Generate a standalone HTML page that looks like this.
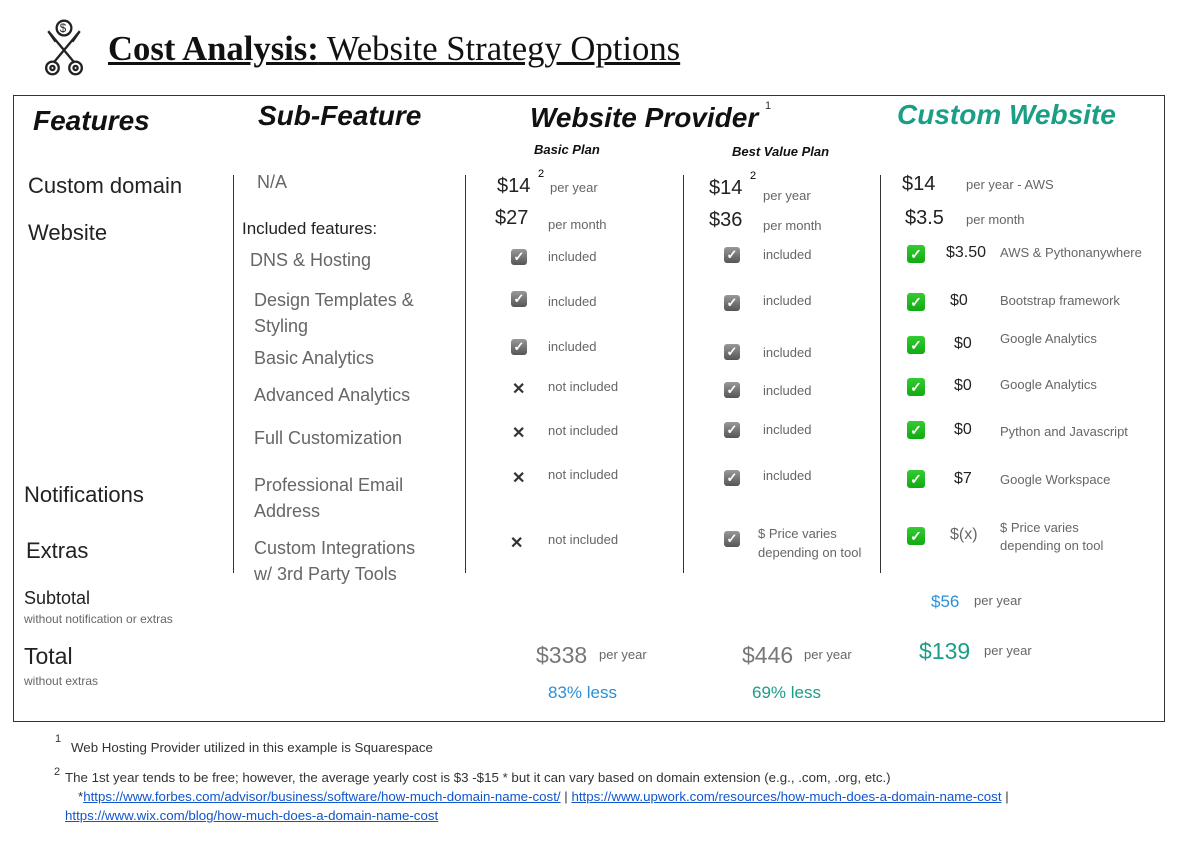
<!DOCTYPE html>
<html><head><meta charset="utf-8"><style>
body{margin:0;width:1180px;height:847px;background:#fff;position:relative;font-family:"Liberation Sans",sans-serif;overflow:hidden}
.a{position:absolute;white-space:nowrap;line-height:1}
.h{font-weight:bold;font-style:italic;color:#111}
.g{color:#666}
.s{font-size:13px;color:#666}
.k{font-size:20px;color:#222}
.vl{position:absolute;width:1px;background:#333}
.cb{position:absolute;width:16px;height:16px;border-radius:3px;background:linear-gradient(#999,#555);color:#fff;font-size:13px;line-height:16px;text-align:center;font-weight:bold}
.gb{position:absolute;width:18px;height:18px;border-radius:3px;background:linear-gradient(#3c3,#1a1);color:#fff;font-size:14px;line-height:18px;text-align:center;font-weight:bold}
.x{position:absolute;font-size:16px;font-weight:bold;color:#333;line-height:1}
a{color:#15c;text-decoration:underline}
</style></head><body>
<svg style="position:absolute;left:43px;top:18px" width="42" height="60" viewBox="0 0 40 56" fill="none" stroke="#222" stroke-width="2.2">
<circle cx="20" cy="9" r="7"/><text x="16" y="13" font-size="11" fill="#222" stroke="none" font-family="Liberation Sans">$</text>
<path d="M5 12 L30 42 M35 12 L10 42 M5 12 L12 22 M35 12 L28 22"/>
<circle cx="9" cy="47" r="6"/><circle cx="31" cy="47" r="6"/><circle cx="9" cy="47" r="2"/><circle cx="31" cy="47" r="2"/>
</svg>
<div class="a" style="left:108px;top:31px;font-family:'Liberation Serif',serif;font-size:35px;color:#111;text-decoration:underline;transform:scaleX(0.99);transform-origin:left"><b>Cost Analysis:</b> Website Strategy Options</div>
<div style="position:absolute;left:13px;top:95px;width:1150px;height:625px;border:1px solid #333"></div>
<div class="vl" style="left:233px;top:175px;height:398px"></div>
<div class="vl" style="left:465px;top:175px;height:398px"></div>
<div class="vl" style="left:683px;top:175px;height:398px"></div>
<div class="vl" style="left:880px;top:175px;height:398px"></div>

<div class="a h" style="left:33px;top:107px;font-size:28px">Features</div>
<div class="a h" style="left:258px;top:102px;font-size:28px">Sub-Feature</div>
<div class="a h" style="left:530px;top:104px;font-size:28px">Website Provider</div>
<div class="a" style="left:765px;top:101px;font-size:11px;color:#333">1</div>
<div class="a h" style="left:897px;top:101px;font-size:28px;color:#1a9e86">Custom Website</div>
<div class="a h" style="left:534px;top:143px;font-size:13px">Basic Plan</div>
<div class="a h" style="left:732px;top:145px;font-size:13px">Best Value Plan</div>

<div class="a" style="left:28px;top:175px;font-size:22px;color:#222">Custom domain</div>
<div class="a" style="left:28px;top:222px;font-size:22px;color:#222">Website</div>
<div class="a" style="left:24px;top:484px;font-size:22px;color:#222">Notifications</div>
<div class="a" style="left:26px;top:540px;font-size:22px;color:#222">Extras</div>

<div class="a g" style="left:257px;top:173px;font-size:18px">N/A</div>
<div class="a" style="left:242px;top:220px;font-size:17px;color:#222">Included features:</div>
<div class="a g" style="left:250px;top:251px;font-size:18px">DNS &amp; Hosting</div>
<div class="a g" style="left:254px;top:287px;font-size:18px;line-height:26px;white-space:normal;width:190px">Design Templates &amp; Styling</div>
<div class="a g" style="left:254px;top:349px;font-size:18px">Basic Analytics</div>
<div class="a g" style="left:254px;top:386px;font-size:18px">Advanced Analytics</div>
<div class="a g" style="left:254px;top:429px;font-size:18px">Full Customization</div>
<div class="a g" style="left:254px;top:472px;font-size:18px;line-height:26px;white-space:normal;width:190px">Professional Email Address</div>
<div class="a g" style="left:254px;top:535px;font-size:18px;line-height:26px;white-space:normal;width:180px">Custom Integrations w/ 3rd Party Tools</div>

<!-- basic -->
<div class="a k" style="left:497px;top:176px">$14</div><div class="a" style="left:538px;top:169px;font-size:11px">2</div>
<div class="a s" style="left:550px;top:181px">per year</div>
<div class="a k" style="left:495px;top:208px">$27</div><div class="a s" style="left:548px;top:218px">per month</div>
<div class="cb" style="left:511px;top:249px">✓</div><div class="a s" style="left:548px;top:250px">included</div>
<div class="cb" style="left:511px;top:291px">✓</div><div class="a s" style="left:548px;top:295px">included</div>
<div class="cb" style="left:511px;top:339px">✓</div><div class="a s" style="left:548px;top:340px">included</div>
<div class="x" style="left:512px;top:382px">✕</div><div class="a s" style="left:548px;top:380px">not included</div>
<div class="x" style="left:512px;top:426px">✕</div><div class="a s" style="left:548px;top:424px">not included</div>
<div class="x" style="left:512px;top:471px">✕</div><div class="a s" style="left:548px;top:468px">not included</div>
<div class="x" style="left:510px;top:536px">✕</div><div class="a s" style="left:548px;top:533px">not included</div>

<!-- best value -->
<div class="a k" style="left:709px;top:178px">$14</div><div class="a" style="left:750px;top:171px;font-size:11px">2</div>
<div class="a s" style="left:763px;top:189px">per year</div>
<div class="a k" style="left:709px;top:210px">$36</div><div class="a s" style="left:763px;top:219px">per month</div>
<div class="cb" style="left:724px;top:247px">✓</div><div class="a s" style="left:763px;top:248px">included</div>
<div class="cb" style="left:724px;top:295px">✓</div><div class="a s" style="left:763px;top:294px">included</div>
<div class="cb" style="left:724px;top:344px">✓</div><div class="a s" style="left:763px;top:346px">included</div>
<div class="cb" style="left:724px;top:382px">✓</div><div class="a s" style="left:763px;top:384px">included</div>
<div class="cb" style="left:724px;top:422px">✓</div><div class="a s" style="left:763px;top:423px">included</div>
<div class="cb" style="left:724px;top:470px">✓</div><div class="a s" style="left:763px;top:469px">included</div>
<div class="cb" style="left:724px;top:531px">✓</div><div class="a s" style="left:758px;top:524px;line-height:19px">$ Price varies<br>depending on tool</div>

<!-- custom -->
<div class="a k" style="left:902px;top:174px">$14</div><div class="a s" style="left:966px;top:178px">per year - AWS</div>
<div class="a k" style="left:905px;top:208px">$3.5</div><div class="a s" style="left:966px;top:213px">per month</div>
<div class="gb" style="left:907px;top:245px">✓</div><div class="a" style="left:946px;top:245px;font-size:16px;color:#222">$3.50</div><div class="a s" style="left:1000px;top:246px">AWS &amp; Pythonanywhere</div>
<div class="gb" style="left:907px;top:293px">✓</div><div class="a" style="left:950px;top:293px;font-size:16px;color:#222">$0</div><div class="a s" style="left:1000px;top:294px">Bootstrap framework</div>
<div class="gb" style="left:907px;top:336px">✓</div><div class="a" style="left:954px;top:336px;font-size:16px;color:#222">$0</div><div class="a s" style="left:1000px;top:332px">Google Analytics</div>
<div class="gb" style="left:907px;top:378px">✓</div><div class="a" style="left:954px;top:378px;font-size:16px;color:#222">$0</div><div class="a s" style="left:1000px;top:378px">Google Analytics</div>
<div class="gb" style="left:907px;top:421px">✓</div><div class="a" style="left:954px;top:422px;font-size:16px;color:#222">$0</div><div class="a s" style="left:1000px;top:425px">Python and Javascript</div>
<div class="gb" style="left:907px;top:470px">✓</div><div class="a" style="left:954px;top:471px;font-size:16px;color:#222">$7</div><div class="a s" style="left:1000px;top:473px">Google Workspace</div>
<div class="gb" style="left:907px;top:527px">✓</div><div class="a g" style="left:950px;top:527px;font-size:16px">$(x)</div><div class="a s" style="left:1000px;top:519px;line-height:18px">$ Price varies<br>depending on tool</div>

<div class="a" style="left:24px;top:589px;font-size:18px;color:#222">Subtotal</div>
<div class="a s" style="left:24px;top:613px;font-size:12px">without notification or extras</div>
<div class="a" style="left:931px;top:593px;font-size:17px;color:#2a8fd8">$56</div><div class="a s" style="left:974px;top:594px">per year</div>
<div class="a" style="left:24px;top:645px;font-size:23px;color:#222">Total</div>
<div class="a s" style="left:24px;top:675px;font-size:12px">without extras</div>
<div class="a" style="left:536px;top:644px;font-size:23px;color:#777">$338</div><div class="a s" style="left:599px;top:648px">per year</div>
<div class="a" style="left:742px;top:644px;font-size:23px;color:#777">$446</div><div class="a s" style="left:804px;top:648px">per year</div>
<div class="a" style="left:919px;top:640px;font-size:23px;color:#1a9e86">$139</div><div class="a s" style="left:984px;top:644px">per year</div>
<div class="a" style="left:548px;top:684px;font-size:17px;color:#2a8fd8">83% less</div>
<div class="a" style="left:752px;top:684px;font-size:17px;color:#1a9e86">69% less</div>

<div class="a" style="left:55px;top:734px;font-size:11px;color:#333">1</div>
<div class="a" style="left:71px;top:741px;font-size:13.3px;color:#333">Web Hosting Provider utilized in this example is Squarespace</div>
<div class="a" style="left:54px;top:767px;font-size:11px;color:#333">2</div>
<div class="a" style="left:65px;top:771px;font-size:13.3px;color:#333">The 1st year tends to be free; however, the average yearly cost is $3 -$15 * but it can vary based on domain extension (e.g., .com, .org, etc.)</div>
<div class="a" style="left:78px;top:790px;font-size:13.3px;color:#333">*<a>https://www.forbes.com/advisor/business/software/how-much-domain-name-cost/</a> | <a>https://www.upwork.com/resources/how-much-does-a-domain-name-cost</a> |</div>
<div class="a" style="left:65px;top:809px;font-size:13.3px;color:#333"><a>https://www.wix.com/blog/how-much-does-a-domain-name-cost</a></div>
</body></html>
